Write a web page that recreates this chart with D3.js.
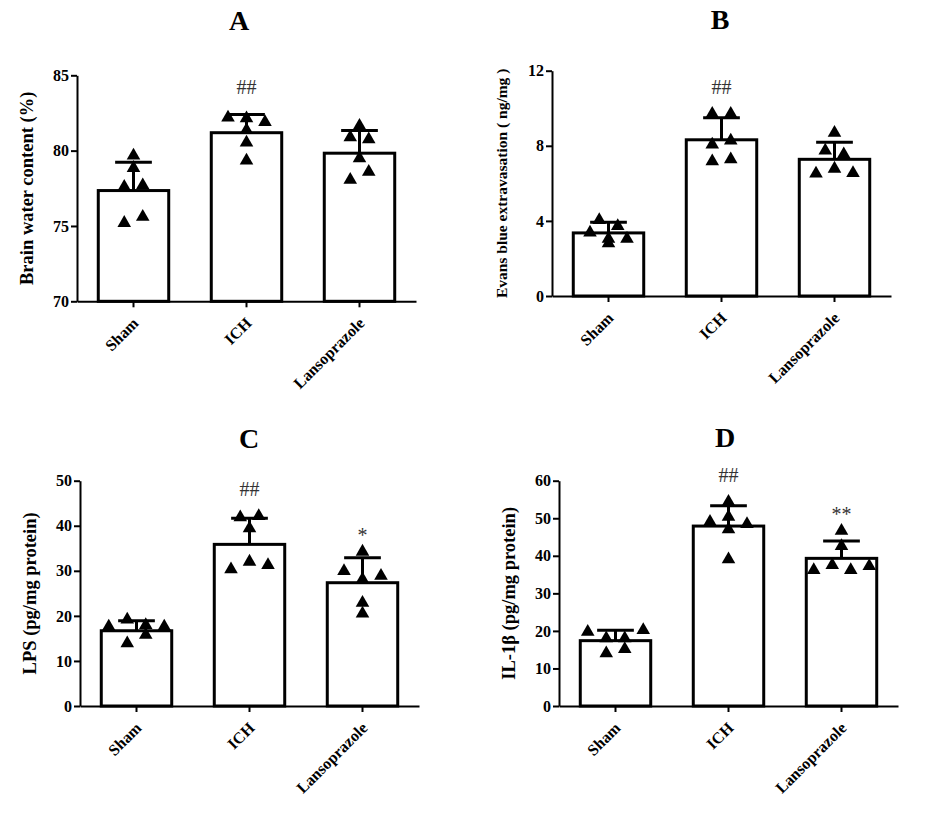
<!DOCTYPE html>
<html>
<head>
<meta charset="utf-8">
<script src="https://cdn.jsdelivr.net/npm/d3@7"></script>
<style>
  body { margin: 0; background: #fff; }
  text { font-family: "Liberation Serif", "Times New Roman", serif; }
</style>
</head>
<body>
<svg id="chart" width="926" height="820"></svg>
<script>
const groups = ["Sham", "ICH", "Lansoprazole"];

// A - brain water content (%)
const waterMean = [77.35, 81.19, 79.83];
const waterSD = [1.88, 1.21, 1.5];
const waterPoints = [
  [79.67, 78.85, 77.6, 77.7, 75.2, 75.6],
  [82.2, 82.15, 81.9, 81.37, 80.53, 79.34],
  [81.64, 80.89, 80.75, 79.49, 78.06, 78.6]
];
const waterTicks = [70, 75, 80, 85];
const waterSig = ["", "##", ""];

// B - Evans blue extravasation (ng/mg)
const evansMean = [3.36, 8.32, 7.28];
const evansSD = [0.57, 1.17, 0.91];
const evansPoints = [
  [4.04, 3.72, 3.38, 3.04, 3.04, 2.8],
  [9.7, 9.7, 8.07, 8.28, 7.17, 7.28],
  [8.69, 7.75, 7.54, 6.52, 6.78, 6.55]
];
const evansTicks = [0, 4, 8, 12];
const evansSig = ["", "##", ""];

// C - LPS (pg/mg protein)
const lpsMean = [16.7, 35.87, 27.36];
const lpsSD = [2.23, 5.77, 5.54];
const lpsPoints = [
  [17.6, 19.2, 17.97, 17.6, 13.9, 15.8],
  [41.86, 42.16, 39.42, 30.33, 32.02, 31.28],
  [34.24, 29.95, 28.11, 28.91, 22.9, 20.5]
];
const lpsTicks = [0, 10, 20, 30, 40, 50];
const lpsSig = ["", "##", "*"];

// D - IL-1beta (pg/mg protein)
const il1bMean = [17.4, 47.92, 39.32];
const il1bSD = [2.75, 5.41, 4.61];
const il1bPoints = [
  [19.78, 18.02, 18.02, 20.23, 14.03, 15.18],
  [54.39, 49.07, 50.4, 48.46, 47.04, 39.06],
  [46.67, 42.6, 36.2, 37.54, 36.2, 37.27]
];
const il1bTicks = [0, 10, 20, 30, 40, 50, 60];
const il1bSig = ["", "##", "**"];

// panel layout
const panels = [
  { title: "A", mean: waterMean, sd: waterSD, points: waterPoints, ticks: waterTicks, sig: waterSig,
    label: "Brain water content (%)", labelSize: 18.5,
    x0: 77, x1: 416, yTop: 75.3, yBottom: 301.3, titleX: 239, titleY: 30 },
  { title: "B", mean: evansMean, sd: evansSD, points: evansPoints, ticks: evansTicks, sig: evansSig,
    label: "Evans blue extravasation ( ng/mg )", labelSize: 15.5,
    x0: 552, x1: 891, yTop: 70.7, yBottom: 296, titleX: 720, titleY: 29 },
  { title: "C", mean: lpsMean, sd: lpsSD, points: lpsPoints, ticks: lpsTicks, sig: lpsSig,
    label: "LPS (pg/mg protein)", labelSize: 18.5,
    x0: 80, x1: 419, yTop: 480.7, yBottom: 706, titleX: 249, titleY: 448 },
  { title: "D", mean: il1bMean, sd: il1bSD, points: il1bPoints, ticks: il1bTicks, sig: il1bSig,
    label: "IL-1\u03b2  (pg/mg protein)", labelSize: 18.5,
    x0: 559, x1: 898, yTop: 480.7, yBottom: 706, titleX: 725, titleY: 447 }
];

const rowGap = 9.6;   // px, points closer than this share a row
const dotStep = 18.5; // px between points in a row
const serif = '"Liberation Serif", "Times New Roman", serif';

const svg = d3.select("#chart");

// prism-like scatter: points at similar heights are spread sideways
function spread(vals, y) {
  const order = vals.map((v, i) => i).sort((a, b) => vals[b] - vals[a]);
  const rows = [];
  order.forEach(i => {
    const row = rows[rows.length - 1];
    if (row && y(vals[i]) - y(vals[row[0]]) < rowGap) row.push(i);
    else rows.push([i]);
  });
  const off = [];
  rows.forEach(row => {
    row.sort((a, b) => a - b);
    row.forEach((i, k) => { off[i] = (k - (row.length - 1) / 2) * dotStep; });
  });
  return off;
}

const tri = d3.symbol().type(d3.symbolTriangle).size(80);

panels.forEach(p => {
  const g = svg.append("g");
  const x = d3.scaleBand().domain(groups).range([p.x0, p.x1])
    .paddingInner(0.35).paddingOuter(0.175);
  const lo = p.ticks[0], hi = p.ticks[p.ticks.length - 1];
  const y = d3.scaleLinear().domain([lo, hi]).range([p.yBottom, p.yTop]);
  const bw = x.bandwidth();
  const cx = d => x(d) + bw / 2;

  // bars
  g.selectAll(".bar").data(groups).join("rect")
    .attr("x", d => x(d) + 1.5)
    .attr("width", bw - 3)
    .attr("y", (d, i) => y(p.mean[i]))
    .attr("height", (d, i) => y(lo) - y(p.mean[i]))
    .attr("fill", "#fff")
    .attr("stroke", "#000")
    .attr("stroke-width", 3);

  // error bars (mean + SD)
  g.selectAll(".err").data(groups).join("line")
    .attr("x1", cx).attr("x2", cx)
    .attr("y1", (d, i) => y(p.mean[i]))
    .attr("y2", (d, i) => y(p.mean[i] + p.sd[i]))
    .attr("stroke", "#000").attr("stroke-width", 3);
  g.selectAll(".cap").data(groups).join("line")
    .attr("x1", d => cx(d) - bw / 4).attr("x2", d => cx(d) + bw / 4)
    .attr("y1", (d, i) => y(p.mean[i] + p.sd[i]))
    .attr("y2", (d, i) => y(p.mean[i] + p.sd[i]))
    .attr("stroke", "#000").attr("stroke-width", 3);

  // axes
  const yAxis = g.append("g")
    .attr("transform", `translate(${p.x0},0)`)
    .call(d3.axisLeft(y).tickValues(p.ticks).tickSize(6).tickSizeOuter(0).tickPadding(2));
  const xAxis = g.append("g")
    .attr("transform", `translate(0,${p.yBottom})`)
    .call(d3.axisBottom(x).tickSize(6).tickSizeOuter(0).tickPadding(2));
  [yAxis, xAxis].forEach(a => {
    a.attr("font-family", serif).attr("font-size", 16).attr("font-weight", "bold");
    a.selectAll("path, line").attr("stroke", "#000").attr("stroke-width", 2);
    a.selectAll("text").attr("fill", "#000");
  });
  xAxis.selectAll("text")
    .attr("y", 0).attr("dy", "0.35em")
    .attr("transform", "translate(2,19) rotate(-45)")
    .style("text-anchor", "end");

  // points
  p.points.forEach((vals, gi) => {
    const off = spread(vals, y);
    g.selectAll(null).data(vals).join("path")
      .attr("d", tri)
      .attr("transform", (v, i) => `translate(${cx(groups[gi]) + off[i]},${y(v)})`)
      .attr("fill", "#000");
  });

  // significance marks
  g.selectAll(".sig").data(groups).join("text")
    .attr("x", cx)
    .attr("y", (d, i) => {
      const top = Math.min(y(p.mean[i] + p.sd[i]), y(d3.max(p.points[i])));
      return top - (p.sig[i].startsWith("#") ? 20 : 10);
    })
    .attr("text-anchor", "middle")
    .attr("fill", "#333")
    .style("font-size", "20px")
    .text((d, i) => p.sig[i]);

  // y label
  g.append("text")
    .attr("transform", `translate(${p.x0 - 50},${(p.yTop + p.yBottom) / 2}) rotate(-90)`)
    .attr("text-anchor", "middle")
    .attr("dy", "0.35em")
    .style("font-weight", "bold")
    .style("font-size", p.labelSize + "px")
    .text(p.label);

  // panel title
  g.append("text")
    .attr("x", p.titleX).attr("y", p.titleY)
    .attr("text-anchor", "middle")
    .style("font-weight", "bold")
    .style("font-size", "28px")
    .text(p.title);
});
</script>
</body>
</html>
